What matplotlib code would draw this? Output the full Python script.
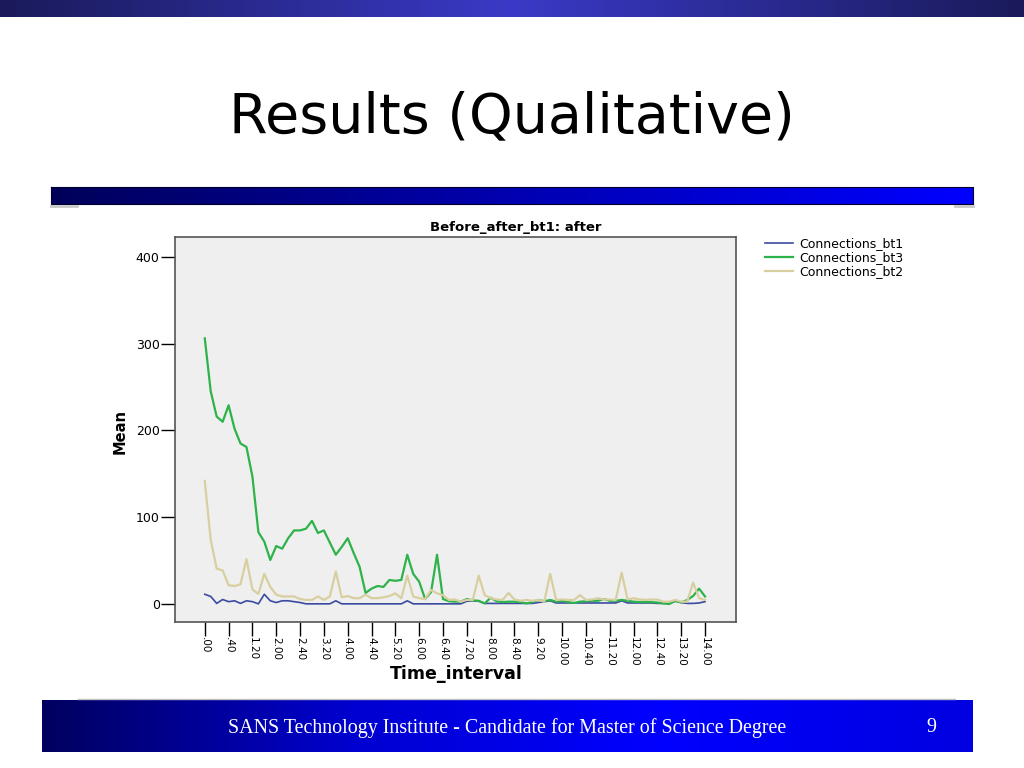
import numpy as np
import matplotlib.pyplot as plt
from matplotlib.colors import LinearSegmentedColormap

# mean connections per 10-minute time interval (index 0 = .00, 84 = 14.00)
bt1 = [11.5, 9, 1, 5.5, 3, 4, 1, 4, 3, 0.5,
       11.5, 4, 2, 4, 4, 3, 2, 0.5, 0.5, 0.5,
       0.5, 0.5, 4, 0.5, 0.5, 0.5, 0.5, 0.5, 0.5, 0.5,
       0.5, 0.5, 0.5, 0.5, 4, 0.5, 0.5, 0.5, 0.5, 0.5,
       0.5, 0.5, 0.5, 0.5, 3.5, 4, 3.5, 1, 1, 1,
       1, 1, 1, 1, 1, 1, 2, 3, 4, 1.5,
       1.5, 1.5, 1.5, 1.5, 1.5, 1.5, 1.5, 1.5, 1.5, 1.5,
       4, 1.5, 1.5, 1.5, 1.5, 1.5, 1, 1, 1, 3.5,
       2, 1, 1, 1.5, 3]
bt3 = [306, 245, 216, 210, 229, 202, 185, 181, 147, 83,
       72, 51, 67, 64, 76, 85, 85, 87, 96, 82,
       85, 71, 57, 66, 76, 59, 43, 13, 18, 21,
       20, 28, 27, 28, 57, 35, 26, 6, 14, 57,
       6, 3.5, 3, 3, 6, 4.5, 4, 1, 7.5, 3.5,
       2.5, 3, 3, 2.5, 1, 2.5, 5, 3.5, 5, 3,
       4, 2.5, 1.5, 3, 3.5, 4, 4, 6, 4, 4,
       5, 4, 3, 2.5, 2.5, 2.5, 2, 1, 0.3, 4,
       2, 5, 9.5, 18, 9]
bt2 = [142, 74, 41, 39, 22, 21, 23, 52, 17, 12,
       35, 20, 11, 9, 9, 9, 6, 5, 5, 9,
       5, 9, 37.5, 8, 9.5, 7, 7, 11, 7, 7,
       8, 9.5, 12.5, 7, 33, 9, 7, 6, 16.5, 12.5,
       10.5, 5, 5.5, 3, 5, 5, 33, 10.5, 7, 5.5,
       5, 13, 5.5, 4, 5, 4, 5, 3, 35, 5,
       5.5, 5, 5, 10.5, 5, 5.5, 7, 5.5, 5.5, 5,
       36.5, 5.5, 7, 5.5, 5, 5.5, 5.5, 3, 3, 5,
       3, 3, 25, 7, 5]
tick_labels = ['.00', '.40', '1.20', '2.00', '2.40', '3.20', '4.00', '4.40',
               '5.20', '6.00', '6.40', '7.20', '8.00', '8.40', '9.20', '10.00',
               '10.40', '11.20', '12.00', '12.40', '13.20', '14.00']
y_ticks = [0, 100, 200, 300, 400]

x = np.arange(len(bt1))

fig = plt.figure(figsize=(10.24, 7.68), dpi=100)

# slide decoration in pixel coordinates
bg = fig.add_axes([0, 0, 1, 1], zorder=0)
bg.axis('off')

def gradient(ax, extent, colors):
    cmap = LinearSegmentedColormap.from_list('g', colors)
    ax.imshow(np.linspace(0, 1, 256).reshape(1, -1), cmap=cmap, aspect='auto',
              extent=extent, interpolation='bicubic')

gradient(bg, (0, 1024, 17, 0), ['#1a1a5a', '#3a3ac8', '#1a1a5a'])
gradient(bg, (51, 973, 204, 187), ['#00005a', '#0000b0', '#0000ff'])
bg.plot([51, 973, 973, 51, 51], [187, 187, 204, 204, 187], color='#000030', lw=0.8)
bg.plot([51, 77], [205.5, 205.5], color='#c8c8c8', lw=2)
bg.plot([955, 973], [205.5, 205.5], color='#c8c8c8', lw=2)
bg.plot([78, 955], [699, 699], color='#c0c0c0', lw=1)
gradient(bg, (42, 973, 752, 700), ['#000060', '#0000d0', '#0000ff', '#0000e0'])
bg.set_xlim(0, 1024)
bg.set_ylim(768, 0)

fig.text(512 / 1024, 1 - 132 / 768, 'Results (Qualitative)', ha='center',
         va='baseline', fontsize=40, family='DejaVu Sans', color='black')
fig.text(507 / 1024, 1 - 728 / 768,
         'SANS Technology Institute - Candidate for Master of Science Degree',
         ha='center', va='center', fontsize=14.4, family='Liberation Serif', color='white')
fig.text(931 / 1024, 1 - 728 / 768, '9', ha='center', va='center',
         fontsize=14.4, family='Liberation Serif', color='white')

ax = fig.add_axes([175 / 1024, 1 - 622 / 768, (736 - 175) / 1024, (622 - 236.7) / 768], zorder=1)
ax.set_facecolor('#efefef')
l1, = ax.plot(x, bt1, color='#3c4aa0', lw=1.2, label='Connections_bt1')
l3, = ax.plot(x, bt3, color='#2db34a', lw=1.6, label='Connections_bt3')
l2, = ax.plot(x, bt2, color='#d8cfa0', lw=1.6, label='Connections_bt2')
ax.set_xlim(-5.0, 89.2)
ax.set_ylim(-20.4, 423)
ax.set_yticks(y_ticks)
ax.set_yticklabels([str(v) for v in y_ticks], fontsize=9)
ax.set_xticks(x[::4])
ax.set_xticklabels(tick_labels, rotation=270, fontsize=7.5)
ax.tick_params(direction='out', length=10, width=1, color='black', pad=1)
for s in ax.spines.values():
    s.set_color('#555555')
    s.set_linewidth(1.2)

fig.text(516 / 1024, 1 - 228 / 768, 'Before_after_bt1: after', ha='center',
         va='center', fontsize=9.5, fontweight='bold')
fig.text(120 / 1024, 1 - 431 / 768, 'Mean', ha='center', va='center',
         rotation=90, fontsize=10.5, fontweight='bold')
fig.text(456 / 1024, 1 - 674 / 768, 'Time_interval', ha='center', va='center',
         fontsize=12.5, fontweight='bold')

fig.legend(handles=[l1, l3, l2], loc='upper left', bbox_to_anchor=(760 / 1024, 1 - 232 / 768),
           frameon=False, fontsize=9, handlelength=2.2, handletextpad=0.5,
           labelspacing=0.1, borderaxespad=0)

fig.savefig('out.png', dpi=100)
